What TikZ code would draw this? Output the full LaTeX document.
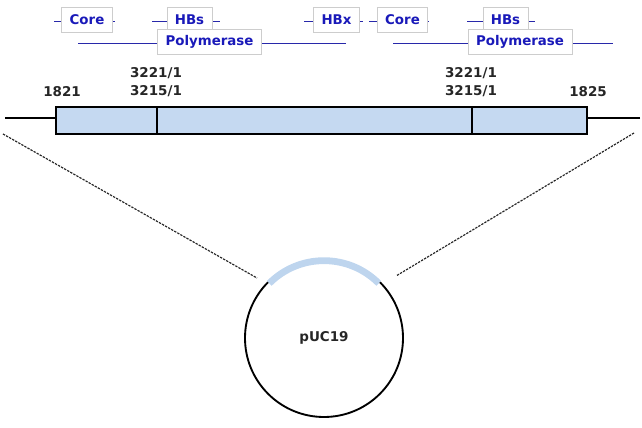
\documentclass[tikz,border=0pt]{standalone}
\usepackage{fontspec}
\setmainfont{DejaVu Sans}
\usepackage{xcolor}
\definecolor{LabelBlue}{RGB}{25,25,185}
\definecolor{GeneLine}{RGB}{40,40,170}
\definecolor{BoxGray}{RGB}{205,205,205}
\definecolor{FillBar}{RGB}{197,217,241}
\definecolor{ArcBlue}{RGB}{190,213,238}
\usepackage{tikz}
\usetikzlibrary{positioning, calc, backgrounds}
\tikzset{
  % Gene label box
  genebox/.style={
    rectangle, draw=BoxGray, fill=white, line width=0.6pt,
    text=LabelBlue, font=\fontsize{11.4}{13}\selectfont\bfseries,
    minimum height=0.75cm, inner xsep=6.8pt, inner ysep=0pt
  },
  % Gene extent line
  geneline/.style={GeneLine, line width=0.8pt},
  % Insert segment
  segbox/.style={
    rectangle, draw=black, line width=1.6pt, fill=FillBar,
    minimum height=0.81cm, inner sep=0pt, outer sep=0pt
  },
  % Position label
  poslabel/.style={
    font=\fontsize{11.5}{16}\selectfont\bfseries, align=center,
    text=black!85, inner sep=0pt
  },
  barline/.style={black, line width=1.6pt},
  plasline/.style={black, line width=1.6pt},
  insarc/.style={ArcBlue, line width=5.8pt},
  zoomline/.style={black!85, dash pattern=on 2pt off 1pt, line width=1pt},
}

\begin{document}
\begin{tikzpicture}[x=0.03cm, y=-0.03cm]

  \useasboundingbox (0,0) rectangle (642,428);

  %% Gene labels
  \node[genebox] (core1) at (87,20)  {Core};
  \node[genebox] (hbs1)  at (189.5,20) {HBs};
  \node[genebox] (pol1)  at (209.5,42) {Polymerase};
  \node[genebox] (hbx)   at (336.5,20) {HBx};
  \node[genebox] (core2) at (402.5,20) {Core};
  \node[genebox] (hbs2)  at (505.5,20) {HBs};
  \node[genebox] (pol2)  at (520,42) {Polymerase};

  \coordinate (core1L) at (54,21);  \coordinate (core1R) at (115,21);
  \coordinate (hbs1L)  at (152,21); \coordinate (hbs1R)  at (220,21);
  \coordinate (pol1L)  at (78,43);  \coordinate (pol1R)  at (346,43);
  \coordinate (hbxL)   at (304,21); \coordinate (hbxR)   at (363,21);
  \coordinate (core2L) at (369,21); \coordinate (core2R) at (429,21);
  \coordinate (hbs2L)  at (467,21); \coordinate (hbs2R)  at (535,21);
  \coordinate (pol2L)  at (393,43); \coordinate (pol2R)  at (613,43);

  \begin{scope}[on background layer]
    \foreach \g in {core1, hbs1, pol1, hbx, core2, hbs2, pol2}
      \draw[geneline] (\g L) -- (\g R);
  \end{scope}

  %% Insert
  \node[segbox, minimum width=3.03cm]  (seg1) at (106.5,120.5) {};
  \node[segbox, minimum width=9.45cm]  (seg2) at (314.5,120.5) {};
  \node[segbox, minimum width=3.45cm]  (seg3) at (529.5,120.5) {};

  \node[poslabel] (p1821) at (62,92)  {1821};
  \node[poslabel] (junc1) at (156,82) {3221/1\\3215/1};
  \node[poslabel] (junc2) at (471,82) {3221/1\\3215/1};
  \node[poslabel] (p1825) at (588,92) {1825};

  \coordinate (stubL) at (5,118);
  \coordinate (stubR) at (640,118);

  %% Plasmid
  \node[circle, minimum size=4.74cm, inner sep=0pt, outer sep=0pt,
        font=\fontsize{11.5}{13}\selectfont\bfseries, text=black!85]
    (plasmid) at (324,338) {pUC19};

  \coordinate (zoomL1) at (3,134);
  \coordinate (zoomL2) at (257,278);
  \coordinate (zoomR1) at (634,133);
  \coordinate (zoomR2) at (396,276);

  %% Lines
  \draw[barline] (stubL) -- (stubL -| seg1.west);
  \draw[barline] (stubR) -- (stubR -| seg3.east);
  \draw[plasline] (plasmid.45) arc[start angle=45, end angle=-225, radius=2.37cm];
  \draw[insarc] ($(plasmid.center)+(135:2.32cm)$) arc[start angle=135, end angle=45, radius=2.32cm];
  \draw[zoomline] (zoomL1) -- (zoomL2);
  \draw[zoomline] (zoomR1) -- (zoomR2);

\end{tikzpicture}
\end{document}
